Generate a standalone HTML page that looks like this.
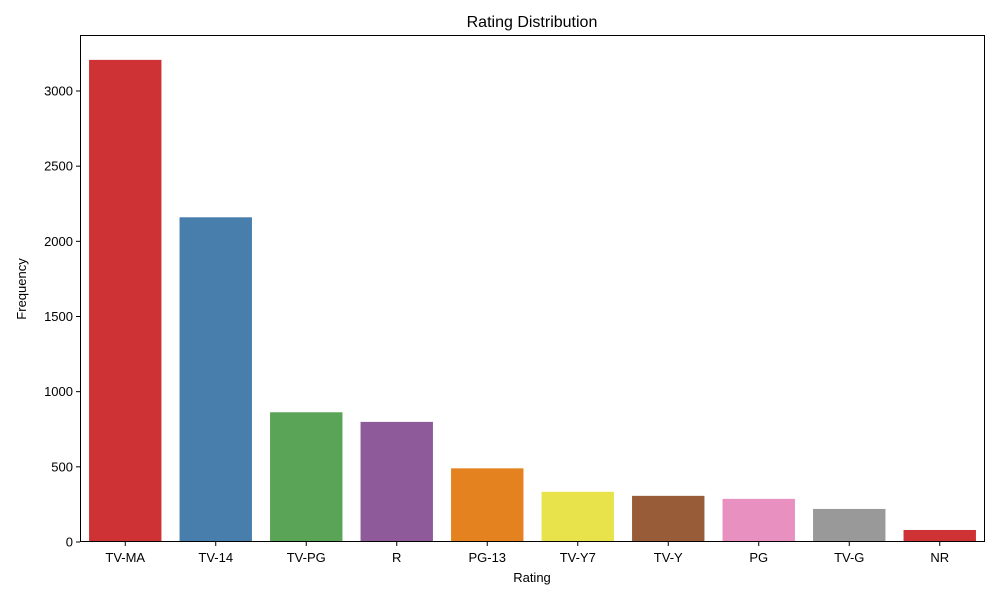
<!DOCTYPE html>
<html><head><meta charset="utf-8"><style>
body{margin:0;background:#fff;font-family:"Liberation Sans",sans-serif;}
svg text{font-family:"Liberation Sans",sans-serif;fill:#000;}
</style></head><body>
<svg id="chart" width="1000" height="600">
<text x="532" y="27" font-size="16" text-anchor="middle">Rating Distribution</text>
<text x="532" y="582" font-size="13" text-anchor="middle">Rating</text>
<text x="26" y="289" font-size="13" text-anchor="middle" transform="rotate(-90 26 289)">Frequency</text>
<g id="bars"></g><g id="ticks"></g>
<rect x="80.5" y="35.5" width="904" height="506" fill="none" stroke="#000" stroke-width="1"/>
</svg>
<script>
const categories=["TV-MA","TV-14","TV-PG","R","PG-13","TV-Y7","TV-Y","PG","TV-G","NR"];
const values=[3207,2160,863,799,490,334,307,287,220,80];
const colors=["#ce3235","#477eac","#5aa457","#8f5a9a","#e3821f","#e8e34b","#985c39","#e890c0","#999999","#ce3235"];
const yTicks=[0,500,1000,1500,2000,2500,3000];
const L=80,R=985,T=35,B=542;
const y=v=>B-v*(542-91)/3000;
const step=(R-L)/categories.length;
const x=i=>L+step*i+step/2;
const ns="http://www.w3.org/2000/svg";
const bars=document.getElementById('bars'),ticks=document.getElementById('ticks');
categories.forEach((c,i)=>{
 const r=document.createElementNS(ns,'rect');
 r.setAttribute('x',x(i)-step*0.4);r.setAttribute('width',step*0.8);
 r.setAttribute('y',y(values[i]));r.setAttribute('height',B-y(values[i]));
 r.setAttribute('fill',colors[i]);
 
 
 bars.appendChild(r);
 const l=document.createElementNS(ns,'line');
 l.setAttribute('x1',x(i));l.setAttribute('x2',x(i));l.setAttribute('y1',B);l.setAttribute('y2',B+4);l.setAttribute('stroke','#000');
 
 
 ticks.appendChild(l);
 const t=document.createElementNS(ns,'text');
 t.setAttribute('x',x(i));t.setAttribute('y',B+20);t.setAttribute('font-size','13');t.setAttribute('text-anchor','middle');t.textContent=c;
 
 
 ticks.appendChild(t);
});
yTicks.forEach(v=>{
 const l=document.createElementNS(ns,'line');
 l.setAttribute('x1',L-4);l.setAttribute('x2',L);l.setAttribute('y1',y(v));l.setAttribute('y2',y(v));l.setAttribute('stroke','#000');
 
 
 ticks.appendChild(l);
 const t=document.createElementNS(ns,'text');
 t.setAttribute('x',L-7);t.setAttribute('y',y(v)+4.5);t.setAttribute('font-size','13');t.setAttribute('text-anchor','end');t.textContent=v;
 
 
 ticks.appendChild(t);
});
</script>
</body></html>
